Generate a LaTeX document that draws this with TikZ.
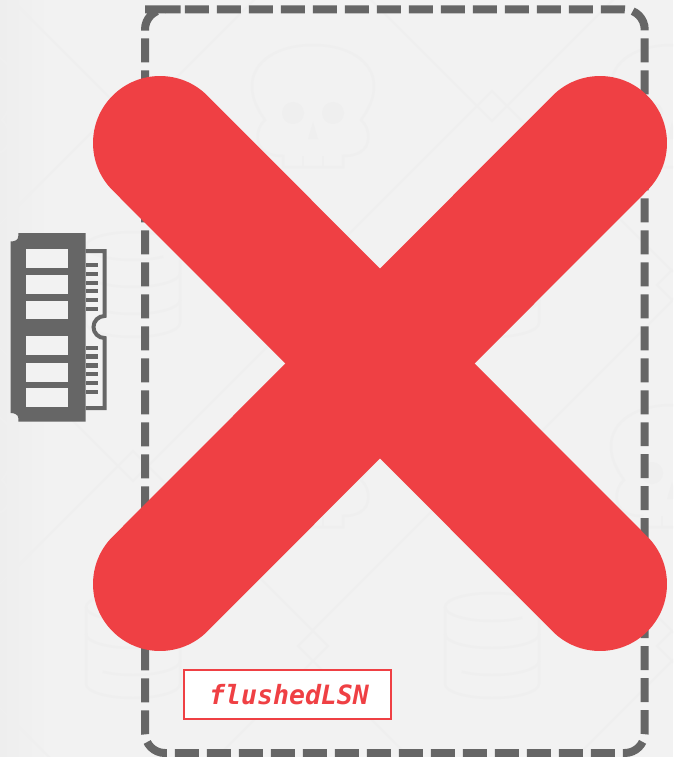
\documentclass[tikz,border=0pt]{standalone}
\usepackage{fontspec}
\newfontfamily\lsnfont{DejaVu Sans Mono}
\definecolor{PanelGrey}{HTML}{F2F2F2}
\definecolor{EdgeGrey} {HTML}{EEEEEE}
\definecolor{GhostGrey}{HTML}{EFEFEF}
\definecolor{ChipGrey} {HTML}{666666}
\definecolor{CrossRed} {HTML}{EF4044}
\usetikzlibrary{positioning}
\tikzset{
  ghostline/.style={draw=GhostGrey,line width=0.05cm},
  ghostlink/.style={draw=GhostGrey,line width=0.035cm},
  ghostskull/.pic={
    \draw[ghostline] (-30,61) -- (-30,50) .. controls (-50,50) and (-57,40) .. (-55,27)
      .. controls (-54,20) and (-50,16) .. (-48,14) .. controls (-58,0) and (-61,-10) .. (-61,-20)
      .. controls (-61,-45) and (-35,-61) .. (0,-61) .. controls (35,-61) and (61,-45) .. (61,-20)
      .. controls (61,-10) and (58,0) .. (48,14) .. controls (50,16) and (54,20) .. (55,27)
      .. controls (57,40) and (50,50) .. (30,50) -- (30,61) -- cycle;
    \foreach \x in {-10,10}{\draw[ghostline] (\x,50) -- (\x,61);}
    \fill[GhostGrey] (-20,7) circle (11) (20,7) circle (11);
    \fill[GhostGrey] (0,16) -- (5,33) -- (-5,33) -- cycle;
  },
  ghostdisk/.pic={
    \draw[ghostline] (47,-39) arc[start angle=0,end angle=-310,x radius=47,y radius=14];
    \draw[ghostline] (-47,-39) -- (-47,38) arc[start angle=180,end angle=0,x radius=47,y radius=14] -- (47,-39);
    \draw[ghostline] (-47,-12) arc[start angle=180,end angle=0,x radius=47,y radius=14];
    \draw[ghostline] (47,15) arc[start angle=0,end angle=130,x radius=47,y radius=14];
  },
  ghostgem/.pic={
    \draw[ghostlink] (-15,0) -- (0,-15) -- (15,0) -- (0,15) -- cycle;
  },
  memframe/.style={draw=ChipGrey,line width=0.16cm,rounded corners=0.4cm,dash pattern=on 0.48cm off 0.16cm},
  crossbar/.style={draw=CrossRed,line width=2.68cm,line cap=round},
  lsnbox/.style={draw=CrossRed,fill=white,line width=0.05cm,minimum width=4.14cm,minimum height=0.98cm,
    text=CrossRed,font=\lsnfont\bfseries\itshape\fontsize{15.1}{18}\selectfont}
}
\begin{document}
\begin{tikzpicture}[x=0.02cm,y=-0.02cm]
  \useasboundingbox (0,0) rectangle (673,757);
  %% Backdrop
  \fill[PanelGrey] (0,0) rectangle (673,757);
  \fill[left color=EdgeGrey,right color=PanelGrey] (0,0) rectangle (50,757);
  %% Ghost graph behind everything
  \begin{scope}
    \clip (0,0) rectangle (673,757);
    \foreach \x/\y in {133/106,492/106,133/466,492/466}{
      \draw[ghostlink] (\x-180,\y-165) -- (\x-15,\y) -- (\x-180,\y+165);
      \draw[ghostlink] (\x+180,\y-165) -- (\x+15,\y) -- (\x+180,\y+165);
    }
    \foreach \x/\y in {-47/646,313/646,672/646}{
      \draw[ghostlink] (\x,\y+15) -- (\x-165,\y+180);
      \draw[ghostlink] (\x,\y+15) -- (\x+165,\y+180);
    }
    \foreach \x/\y in {133/106,492/106,-47/285,313/285,672/285,133/466,492/466,-47/646,313/646,672/646}{
      \pic at (\x,\y) {ghostgem};
    }
    \foreach \x/\y in {-46/106,313/106,672/106,-46/466,313/466,672/466}{
      \pic at (\x,\y) {ghostskull};
    }
    \foreach \x/\y in {133/285,492/285,133/646,492/646}{
      \pic at (\x,\y) {ghostdisk};
    }
  \end{scope}
  %% Memory frame
  \draw[memframe] (165,9.5) -- (644.7,9.5) -- (644.7,753) -- (145,753) -- (145,9.5) -- cycle;
  %% Memory stick
  \fill[ChipGrey] (18.3,233) -- (18.3,236) .. controls (18.3,240) and (15,241.5) .. (10.7,241.5)
    -- (10.7,413) .. controls (15,413) and (18.3,415) .. (18.3,418) -- (18.3,421.7)
    -- (85.7,421.7) -- (85.7,233) -- cycle;
  \foreach \a/\b in {249/267.7,275/294.3,300.7/319.3,336/355,362.7/381.7,387.7/406.7}{
    \fill[PanelGrey] (25.7,\a) rectangle (68.3,\b);
  }
  \draw[ChipGrey,line width=0.08cm] (85.7,251) -- (104.5,251) -- (104.5,316)
    arc[start angle=270,end angle=90,radius=11] -- (104.5,408) -- (85.7,408);
  \foreach \a/\b in {262.7/267.3,271.7/276,280.7/285,289/293,297.7/302,306.7/311,
                     346/350,354/358.7,363.3/367.7,372/376,380.7/385,390/394}{
    \fill[ChipGrey] (85.7,\a) rectangle (98.3,\b);
  }
  %% Cross
  \coordinate (nw) at (160,143);
  \coordinate (ne) at (600,143);
  \coordinate (sw) at (160,584);
  \coordinate (se) at (600,584);
  \draw[crossbar] (nw) -- (se);
  \draw[crossbar] (ne) -- (sw);
  %% Label
  \node[lsnbox] (flushed) at (287.3,694.5) {\hspace{2pt}flushedLSN};
\end{tikzpicture}
\end{document}
